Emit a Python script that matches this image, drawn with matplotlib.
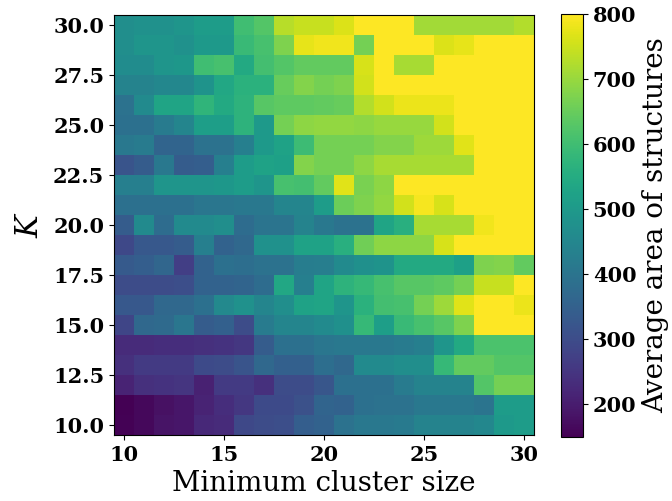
import numpy as np
import matplotlib
matplotlib.use("Agg")
import matplotlib.pyplot as plt

plt.rcParams['font.family'] = ['DejaVu Serif']
plt.rcParams['mathtext.fontset'] = 'dejavuserif'

min_cluster_sizes = list(range(10, 31))
k_values = list(range(10, 31))

# rows: K = 10 .. 30 ; columns: min cluster size = 10 .. 30
area_k10 = [155,165,185,190,225,230,290,300,305,345,355,395,410,410,415,440,440,440,450,500,510]
area_k11 = [150,165,180,190,215,235,255,295,295,310,360,355,390,395,395,410,410,410,400,510,510]
area_k12 = [215,240,245,250,210,260,260,240,300,300,325,390,390,390,420,440,440,440,625,665,665]
area_k13 = [240,260,260,260,295,300,320,370,350,350,385,370,460,460,470,470,585,645,645,625,625]
area_k14 = [230,230,235,235,240,245,255,340,390,390,405,410,410,410,420,430,490,545,615,615,615]
area_k15 = [285,370,375,405,340,350,300,420,445,445,462,475,585,515,590,610,630,675,800,800,800]
area_k16 = [330,330,370,370,390,455,480,445,470,525,530,490,565,605,610,665,705,770,800,800,780]
area_k17 = [300,300,300,305,355,355,360,380,540,430,530,570,585,610,630,630,640,665,745,745,800]
area_k18 = [335,345,365,270,355,390,385,395,395,425,428,460,475,485,545,545,545,520,675,680,645]
area_k19 = [290,330,330,340,430,355,370,480,480,525,525,560,660,690,690,690,760,800,800,800,800]
area_k20 = [340,460,380,460,460,470,380,400,400,440,410,395,395,530,560,715,715,715,785,800,800]
area_k21 = [390,390,390,390,405,405,410,410,445,445,510,655,675,695,755,790,760,800,800,800,800]
area_k22 = [430,430,490,490,490,495,510,490,610,605,645,770,670,690,800,800,800,800,800,800,800]
area_k23 = [320,340,410,340,345,430,510,525,520,680,665,665,690,715,715,715,715,715,800,800,800]
area_k24 = [410,420,360,360,395,395,430,500,525,595,665,665,665,680,680,705,705,770,800,800,800]
area_k25 = [390,390,420,445,515,515,570,500,665,690,695,695,690,700,700,700,755,800,800,800,800]
area_k26 = [395,460,530,530,575,545,570,630,640,640,645,650,725,755,780,780,780,800,800,800,800]
area_k27 = [440,440,450,450,485,540,565,565,650,680,665,675,755,800,800,800,800,800,800,800,800]
area_k28 = [465,465,490,495,600,610,545,605,625,645,645,645,760,800,715,715,800,800,800,800,800]
area_k29 = [470,490,490,480,500,500,590,610,675,775,785,785,665,800,800,800,765,775,800,800,800]
area_k30 = [470,480,480,490,510,510,600,625,730,745,745,765,800,800,800,710,710,710,710,710,725]

grid = np.array([area_k10, area_k11, area_k12, area_k13, area_k14, area_k15, area_k16,
                 area_k17, area_k18, area_k19, area_k20, area_k21, area_k22, area_k23,
                 area_k24, area_k25, area_k26, area_k27, area_k28, area_k29, area_k30], dtype=float)

x_ticks = [10, 15, 20, 25, 30]
y_ticks = [10.0, 12.5, 15.0, 17.5, 20.0, 22.5, 25.0, 27.5, 30.0]
cbar_ticks = [200, 300, 400, 500, 600, 700, 800]

fig = plt.figure(figsize=(6.72, 5.01), dpi=100)
ax = fig.add_axes([114/672, (501-435)/501, 420/672, 420/501])
extent = [min_cluster_sizes[0]-0.5, min_cluster_sizes[-1]+0.5, k_values[0]-0.5, k_values[-1]+0.5]
im = ax.imshow(grid, origin='lower', cmap='viridis', vmin=150, vmax=800,
               extent=extent, aspect='auto', interpolation='nearest')
ax.set_xticks(x_ticks)
ax.set_yticks(y_ticks)
ax.set_xticklabels([str(v) for v in x_ticks], fontsize=15, fontweight='bold')
ax.set_yticklabels([f"{v:.1f}" for v in y_ticks], fontsize=15, fontweight='bold')
ax.set_xlabel("Minimum cluster size", fontsize=20, labelpad=4)
ax.set_ylabel("$K$", fontsize=22, labelpad=6)

cax = fig.add_axes([561/672, (501-437)/501, 22/672, 423/501])
cb = fig.colorbar(im, cax=cax)
cb.set_ticks(cbar_ticks)
cb.ax.set_yticklabels([str(v) for v in cbar_ticks], fontsize=15, fontweight='bold')
cb.set_label("Average area of structures", fontsize=20)

fig.savefig("out.png", dpi=100)
